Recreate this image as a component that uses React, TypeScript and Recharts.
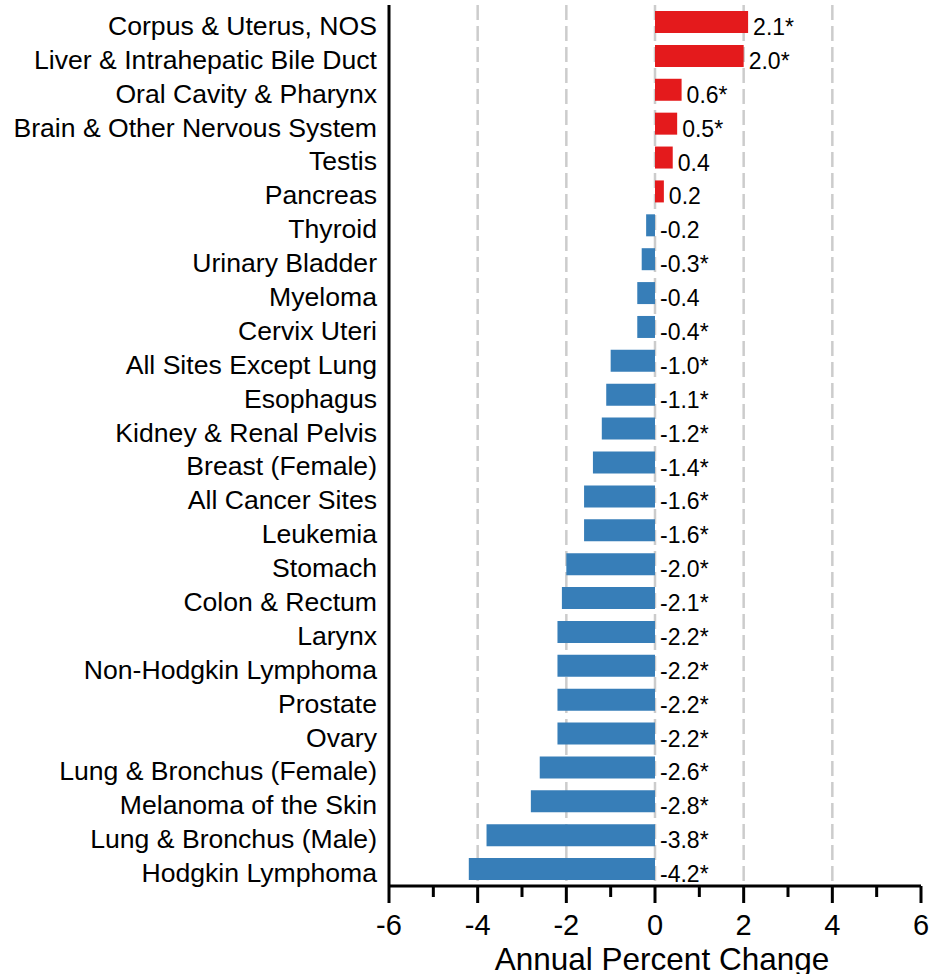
import { Bar, BarChart, CartesianGrid, Cell, LabelList, XAxis, YAxis } from 'recharts'

const categories = [
  'Corpus & Uterus, NOS',
  'Liver & Intrahepatic Bile Duct',
  'Oral Cavity & Pharynx',
  'Brain & Other Nervous System',
  'Testis',
  'Pancreas',
  'Thyroid',
  'Urinary Bladder',
  'Myeloma',
  'Cervix Uteri',
  'All Sites Except Lung',
  'Esophagus',
  'Kidney & Renal Pelvis',
  'Breast (Female)',
  'All Cancer Sites',
  'Leukemia',
  'Stomach',
  'Colon & Rectum',
  'Larynx',
  'Non-Hodgkin Lymphoma',
  'Prostate',
  'Ovary',
  'Lung & Bronchus (Female)',
  'Melanoma of the Skin',
  'Lung & Bronchus (Male)',
  'Hodgkin Lymphoma',
]

const apcValues = [
  2.1, 2.0, 0.6, 0.5, 0.4, 0.2, -0.2, -0.3, -0.4, -0.4, -1.0, -1.1, -1.2, -1.4,
  -1.6, -1.6, -2.0, -2.1, -2.2, -2.2, -2.2, -2.2, -2.6, -2.8, -3.8, -4.2,
]

const significant = [
  true, true, true, true, false, false, false, true, false, true, true, true, true, true,
  true, true, true, true, true, true, true, true, true, true, true, true,
]

const xTicks = [-6, -5, -4, -3, -2, -1, 0, 1, 2, 3, 4, 5, 6]
const gridValues = [-4, -2, 0, 2, 4]

const data = categories.map((name, i) => ({
  name,
  value: apcValues[i],
  label: apcValues[i].toFixed(1) + (significant[i] ? '*' : ''),
}))

const FONT = '"Liberation Sans", Arial, sans-serif'
const RED = '#e41a1c'
const BLUE = '#377eb8'

// odd values get a short minor tick and no label
const XTick = ({ x, y, payload }: any) => {
  const major = payload.value % 2 === 0
  return (
    <g>
      <line x1={x} x2={x} y1={y} y2={y + (major ? 17 : 11)} stroke="#000" strokeWidth={3} />
      {major && (
        <text x={x} y={y + 49} textAnchor="middle" fontSize={29} fontFamily={FONT} fill="#000">
          {payload.value}
        </text>
      )}
    </g>
  )
}

const YTick = ({ x, y, payload }: any) => (
  <text x={x - 12} y={y + 13} textAnchor="end" fontSize={26.6} fontFamily={FONT} fill="#000">
    {payload.value}
  </text>
)

const ValueLabel = ({ x, y, width, height, value }: any) => {
  const right = Math.max(Number(x), Number(x) + Number(width))
  return (
    <text x={right + 5} y={Number(y) + Number(height) / 2 + 13} fontSize={23} fontFamily={FONT} fill="#000">
      {value}
    </text>
  )
}

const AxisTitle = ({ viewBox }: any) => (
  <text
    x={viewBox.x + viewBox.width / 2 + 7}
    y={viewBox.y + 84}
    textAnchor="middle"
    fontSize={31.5}
    fontFamily={FONT}
    fill="#000"
  >
    Annual Percent Change
  </text>
)

export default function App() {
  return (
    <div style={{ position: 'absolute', left: 0, top: 0, background: '#fff' }}>
      <BarChart
        width={948}
        height={974}
        data={data}
        layout="vertical"
        margin={{ top: 5, right: 27, bottom: 0, left: 0 }}
        barSize={22}
      >
        <CartesianGrid
          horizontal={false}
          vertical
          verticalValues={gridValues}
          stroke="#cccccc"
          strokeWidth={2.5}
          strokeDasharray="15 6"
        />
        <XAxis
          type="number"
          domain={[-6, 6]}
          ticks={xTicks}
          interval={0}
          height={88}
          tickSize={0}
          tickMargin={0}
          tickLine={false}
          axisLine={{ stroke: '#000', strokeWidth: 3 }}
          tick={<XTick />}
          label={<AxisTitle />}
        />
        <YAxis
          type="category"
          dataKey="name"
          width={389}
          tickSize={0}
          tickMargin={0}
          tickLine={false}
          interval={0}
          axisLine={{ stroke: '#000', strokeWidth: 3 }}
          tick={<YTick />}
        />
        <Bar dataKey="value" isAnimationActive={false}>
          {data.map((d) => (
            <Cell key={d.name} fill={d.value > 0 ? RED : BLUE} />
          ))}
          <LabelList dataKey="label" content={<ValueLabel />} />
        </Bar>
      </BarChart>
    </div>
  )
}
